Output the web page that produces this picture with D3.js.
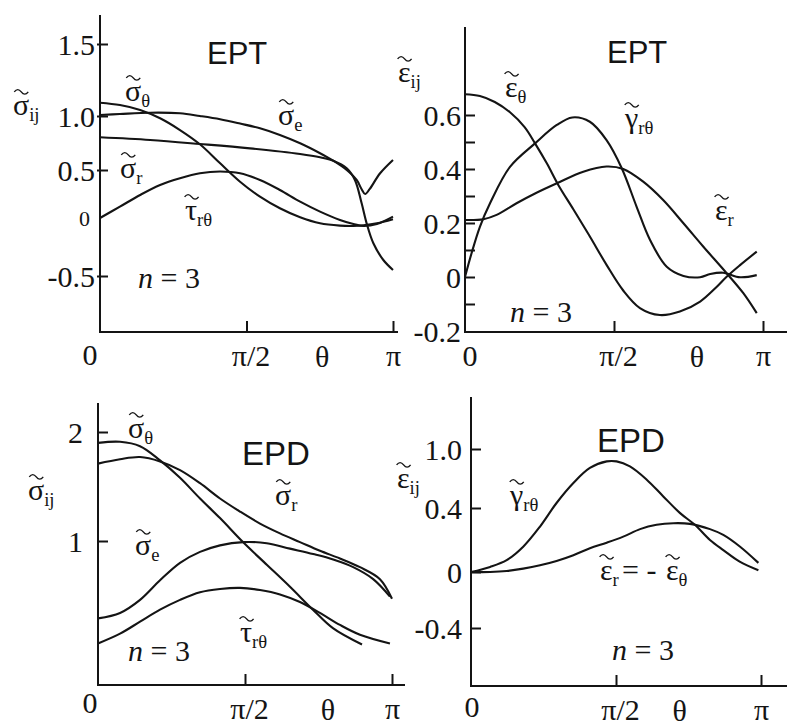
<!DOCTYPE html>
<html>
<head>
<meta charset="utf-8">
<script src="https://cdn.jsdelivr.net/npm/d3@7"></script>
</head>
<body style="margin:0">
<svg id="fig" width="787" height="726"></svg>
<script>
// Angle θ is stored in units of π: 0 … 1.
const thetaTickValues = [0.5, 1];
const thetaTickLabels = ["π/2", "π"];

// ---- EPT, stress components [θ/π, value] ----
const eptSigmaE = [[0,1.007],[0.068,1.014],[0.171,1.023],[0.273,1.019],[0.341,1.0],[0.41,0.97],[0.478,0.93],[0.546,0.886],[0.614,0.824],[0.683,0.747],[0.751,0.655],[0.796,0.586],[0.842,0.5],[0.876,0.396],[0.893,0.3],[0.905,0.25],[0.92,0.3],[0.956,0.466],[1.0,0.593]];
const eptSigmaR = [[0,0.803],[0.171,0.778],[0.341,0.741],[0.512,0.7],[0.683,0.648],[0.751,0.618],[0.796,0.586],[0.842,0.516],[0.87,0.396],[0.893,0.153],[0.91,-0.046],[0.933,-0.218],[0.967,-0.362],[1.0,-0.448]];
const eptSigmaTheta = [[0,1.092],[0.068,1.076],[0.137,1.042],[0.205,0.979],[0.273,0.87],[0.341,0.738],[0.41,0.562],[0.478,0.378],[0.546,0.222],[0.614,0.101],[0.683,0.007],[0.751,-0.046],[0.819,-0.066],[0.865,-0.069],[0.899,-0.063],[0.945,-0.046],[1.0,-0.011]];
const eptTauRTheta = [[0,0],[0.068,0.118],[0.137,0.24],[0.205,0.344],[0.273,0.414],[0.341,0.466],[0.41,0.484],[0.478,0.466],[0.546,0.396],[0.614,0.292],[0.683,0.17],[0.751,0.066],[0.819,-0.017],[0.865,-0.052],[0.899,-0.069],[0.945,-0.052],[1.0,0.014]];
const eptStressTicks = [-0.5, 0, 0.5, 1.0, 1.5];
const eptStressTickLabels = ["-0.5", "0", "0.5", "1.0", "1.5"];

// ---- EPT, strain components ----
const eptEpsTheta = [[0,0.677],[0.05,0.67],[0.1,0.648],[0.151,0.61],[0.2,0.555],[0.235,0.495],[0.275,0.42],[0.313,0.341],[0.364,0.25],[0.419,0.15],[0.475,0.045],[0.531,-0.05],[0.587,-0.115],[0.654,-0.141],[0.721,-0.128],[0.789,-0.091],[0.845,-0.036],[0.878,0.001],[0.923,0.044],[0.979,0.094]];
const eptGammaRTheta = [[0,0],[0.022,0.088],[0.05,0.186],[0.084,0.273],[0.151,0.408],[0.235,0.495],[0.308,0.563],[0.36,0.591],[0.419,0.575],[0.475,0.507],[0.526,0.403],[0.576,0.26],[0.621,0.137],[0.677,0.038],[0.733,0.004],[0.789,-0.001],[0.823,0.011],[0.866,0.016],[0.923,-0.001],[0.979,0.007]];
const eptEpsR = [[0,0.211],[0.062,0.214],[0.106,0.23],[0.173,0.273],[0.24,0.312],[0.308,0.347],[0.397,0.39],[0.475,0.409],[0.531,0.4],[0.598,0.353],[0.665,0.285],[0.733,0.199],[0.8,0.112],[0.878,0.014],[0.934,-0.06],[0.979,-0.134]];
const eptStrainTicks = [-0.2, -0.1, 0, 0.1, 0.2, 0.3, 0.4, 0.5, 0.6];
const eptStrainTickLabels = ["-0.2", "", "0", "", "0.2", "", "0.4", "", "0.6"];

// ---- EPD, stress components ----
const epdSigmaTheta = [[0,1.9],[0.075,1.91],[0.143,1.87],[0.211,1.74],[0.279,1.58],[0.347,1.39],[0.415,1.21],[0.493,0.99],[0.575,0.78],[0.653,0.58],[0.731,0.37],[0.799,0.2],[0.898,0.05]];
const epdSigmaR = [[0,1.71],[0.075,1.75],[0.143,1.77],[0.211,1.73],[0.279,1.65],[0.347,1.53],[0.415,1.39],[0.483,1.27],[0.551,1.16],[0.619,1.07],[0.687,0.99],[0.755,0.91],[0.823,0.84],[0.891,0.76],[0.959,0.65],[1.0,0.47]];
const epdSigmaE = [[0,0.29],[0.075,0.34],[0.143,0.46],[0.211,0.64],[0.279,0.8],[0.347,0.9],[0.415,0.96],[0.494,0.99],[0.574,0.98],[0.653,0.93],[0.732,0.88],[0.8,0.83],[0.868,0.76],[0.936,0.65],[0.993,0.49]];
const epdTauRTheta = [[0,0.06],[0.075,0.15],[0.143,0.26],[0.211,0.37],[0.279,0.46],[0.347,0.53],[0.415,0.56],[0.483,0.57],[0.551,0.55],[0.619,0.51],[0.687,0.44],[0.755,0.34],[0.823,0.23],[0.891,0.14],[0.993,0.06]];
const epdStressTicks = [1, 2];
const epdStressTickLabels = ["1", "2"];

// ---- EPD, strain components ----
const epdGammaRTheta = [[0,0],[0.066,0.032],[0.123,0.074],[0.18,0.158],[0.238,0.284],[0.295,0.451],[0.353,0.654],[0.41,0.807],[0.468,0.874],[0.502,0.874],[0.548,0.823],[0.606,0.688],[0.663,0.518],[0.721,0.368],[0.772,0.295],[0.824,0.2],[0.87,0.137],[0.928,0.063],[0.991,0.011]];
const epdEpsR = [[0,0],[0.066,0.0],[0.123,0.006],[0.18,0.021],[0.238,0.042],[0.295,0.069],[0.353,0.105],[0.41,0.148],[0.468,0.183],[0.525,0.221],[0.583,0.268],[0.64,0.295],[0.698,0.305],[0.755,0.301],[0.824,0.268],[0.87,0.232],[0.928,0.158],[0.991,0.057]];
const epdStrainTicks = [-0.4, 0, 0.4, 1.0];
const epdStrainTickLabels = ["-0.4", "0", "0.4", "1.0"];

const SERIF = "'Liberation Serif'";
const SANS = "'Liberation Sans'";
const INK = "#141414";
// approximate advance of the Greek base letters, in em
const glyphWidth = { "σ": 0.55, "ε": 0.44, "γ": 0.45, "τ": 0.44 };

const svg = d3.select("#fig");

// Symbol with a tilde on top and a subscript, e.g. σ̃θ
function sym(g, x, y, base, sub, size = 30) {
  const t = g.append("text")
    .attr("x", x).attr("y", y)
    .style("font-family", SERIF).style("font-size", size + "px").attr("fill", INK);
  t.append("tspan").text(base);
  if (sub) {
    t.append("tspan").style("font-size", (size * 0.62) + "px").attr("dy", size * 0.2).text(sub);
  }
  const cx = x + glyphWidth[base] * size / 2, ty = y - size * 0.82;
  g.append("path")
    .attr("d", `M${cx - 7},${ty + 1.5}q3.5,-4.5 7,0t7,0`)
    .attr("fill", "none").attr("stroke", INK).attr("stroke-width", 1.4);
}

function label(g, x, y, str, opts = {}) {
  return g.append("text").attr("x", x).attr("y", y)
    .style("font-family", opts.family || SERIF)
    .style("font-size", (opts.size || 30) + "px")
    .attr("text-anchor", opts.anchor || "start")
    .attr("fill", INK).text(str);
}

function nEq3(g, x, y) {
  const t = g.append("text").attr("x", x).attr("y", y)
    .style("font-family", SERIF).style("font-size", "30px").attr("fill", INK);
  t.append("tspan").style("font-style", "italic").text("n");
  t.append("tspan").text(" = 3");
}

function panel(p) {
  const g = svg.append("g");
  const x = d3.scaleLinear().domain([0, 1]).range(p.xRange);
  const y = d3.scaleLinear().domain(p.yDomain).range(p.yRange);
  const x0 = p.xRange[0];

  // curves
  const line = d3.line()
    .x(d => x(d[0])).y(d => y(d[1]))
    .curve(d3.curveCatmullRom.alpha(0.5));
  p.series.forEach(s => {
    g.append("path").attr("d", line(s))
      .attr("fill", "none").attr("stroke", INK)
      .attr("stroke-width", 2.1).attr("stroke-linejoin", "round");
  });

  // axis lines
  g.append("line").attr("x1", x0).attr("x2", x0)
    .attr("y1", p.yTop).attr("y2", p.yBottom)
    .attr("stroke", INK).attr("stroke-width", 2);
  g.append("line").attr("x1", x0 - 1).attr("x2", p.xEnd)
    .attr("y1", p.yBottom).attr("y2", p.yBottom)
    .attr("stroke", INK).attr("stroke-width", 2);

  // y ticks
  const yAxis = d3.axisLeft(y)
    .tickValues(p.yTicks)
    .tickFormat(d => p.yTickLabels[p.yTicks.indexOf(d)])
    .tickSizeInner(-p.yTickLen).tickSizeOuter(0)
    .tickPadding(p.yLabelGap);
  const ya = g.append("g").attr("transform", `translate(${x0},0)`).call(yAxis);
  ya.attr("font-family", null).attr("font-size", null);
  ya.select(".domain").remove();
  ya.selectAll(".tick line").attr("stroke", INK).attr("stroke-width", 2)
    .attr("x1", p.yTickBack || 0);
  ya.selectAll(".tick text").style("font-family", SERIF).style("font-size", "30px")
    .attr("fill", INK).attr("dy", "0.34em");
  if (p.yPlainTicks) {
    ya.selectAll(".tick").filter(d => p.yPlainTicks.includes(d))
      .select("line").attr("stroke", "none");
  }
  if (p.ySmallLabels) {
    ya.selectAll(".tick").filter(d => p.ySmallLabels.includes(d))
      .select("text").style("font-size", "22px").attr("dx", -5);
  }

  // θ ticks
  const xAxis = d3.axisBottom(x)
    .tickValues(thetaTickValues)
    .tickFormat(d => thetaTickLabels[thetaTickValues.indexOf(d)])
    .tickSizeInner(-11).tickSizeOuter(0)
    .tickPadding(p.xLabelPad);
  const xa = g.append("g").attr("transform", `translate(0,${p.yBottom})`).call(xAxis);
  xa.attr("font-family", null).attr("font-size", null);
  xa.select(".domain").remove();
  xa.selectAll(".tick line").attr("stroke", INK).attr("stroke-width", 2);
  xa.selectAll(".tick text").style("font-family", SERIF).style("font-size", "30px").attr("fill", INK);
  xa.selectAll(".tick").filter(d => d === 0.5).select("text").attr("dx", 4);

  label(g, x0 + p.zeroDx, p.yBottom + p.zeroDy, "0", { anchor: "middle" });
  label(g, x(p.thetaAt), p.yBottom + p.thetaDy, "θ", { anchor: "middle" });

  p.draw(g);
}

// EPT stresses
panel({
  xRange: [100, 393], xEnd: 398,
  yDomain: [-0.5, 0, 0.5, 1.0, 1.5], yRange: [276, 218, 170, 116, 44],
  yTop: 15, yBottom: 332,
  yTicks: eptStressTicks, yTickLabels: eptStressTickLabels,
  yTickLen: 8, yTickBack: -3, yLabelGap: 5, yPlainTicks: [0], ySmallLabels: [0],
  xLabelPad: 13, zeroDx: -10, zeroDy: 33, thetaAt: 0.758, thetaDy: 35,
  series: [eptSigmaE, eptSigmaR, eptSigmaTheta, eptTauRTheta],
  draw: g => {
    sym(g, 13, 115, "σ", "ij");
    sym(g, 125, 101, "σ", "θ");
    sym(g, 278, 125, "σ", "e");
    sym(g, 120, 178, "σ", "r");
    sym(g, 185, 220, "τ", "rθ");
    label(g, 207, 64, "EPT", { family: SANS, size: 31 });
    nEq3(g, 138, 288);
  }
});

// EPT strains
panel({
  xRange: [465, 763], xEnd: 787,
  yDomain: [-0.2, 0.6], yRange: [331, 115],
  yTop: 27, yBottom: 332,
  yTicks: eptStrainTicks, yTickLabels: eptStrainTickLabels,
  yTickLen: 10, yLabelGap: 4, yPlainTicks: [-0.2],
  xLabelPad: 13, zeroDx: 5, zeroDy: 34, thetaAt: 0.778, thetaDy: 35,
  series: [eptEpsTheta, eptGammaRTheta, eptEpsR],
  draw: g => {
    sym(g, 398, 82, "ε", "ij");
    sym(g, 505, 97, "ε", "θ");
    sym(g, 625, 128, "γ", "rθ");
    sym(g, 715, 220, "ε", "r");
    label(g, 607, 63, "EPT", { family: SANS, size: 31 });
    nEq3(g, 510, 322);
  }
});

// EPD stresses
panel({
  xRange: [98, 392], xEnd: 405,
  yDomain: [1, 2], yRange: [541, 432],
  yTop: 403, yBottom: 685,
  yTicks: epdStressTicks, yTickLabels: epdStressTickLabels,
  yTickLen: 10, yLabelGap: 15,
  xLabelPad: 13, zeroDx: -8, zeroDy: 28, thetaAt: 0.782, thetaDy: 35,
  series: [epdSigmaTheta, epdSigmaR, epdSigmaE, epdTauRTheta],
  draw: g => {
    sym(g, 28, 500, "σ", "ij");
    sym(g, 128, 438, "σ", "θ");
    sym(g, 275, 505, "σ", "r");
    sym(g, 135, 555, "σ", "e");
    sym(g, 240, 642, "τ", "rθ");
    label(g, 242, 465, "EPD", { family: SANS, size: 33 });
    nEq3(g, 128, 661);
  }
});

// EPD strains
panel({
  xRange: [471, 761], xEnd: 787,
  yDomain: [-0.4, 0, 0.4, 1.0], yRange: [628, 572, 508, 449],
  yTop: 397, yBottom: 686,
  yTicks: epdStrainTicks, yTickLabels: epdStrainTickLabels,
  yTickLen: 10, yLabelGap: 9,
  xLabelPad: 13, zeroDx: 1, zeroDy: 31, thetaAt: 0.72, thetaDy: 35,
  series: [epdGammaRTheta, epdEpsR],
  draw: g => {
    sym(g, 397, 488, "ε", "ij");
    sym(g, 510, 505, "γ", "rθ");
    sym(g, 600, 580, "ε", "r");
    label(g, 622, 580, "= -");
    sym(g, 666, 580, "ε", "θ");
    label(g, 597, 452, "EPD", { family: SANS, size: 33 });
    nEq3(g, 612, 660);
  }
});
</script>
</body>
</html>
